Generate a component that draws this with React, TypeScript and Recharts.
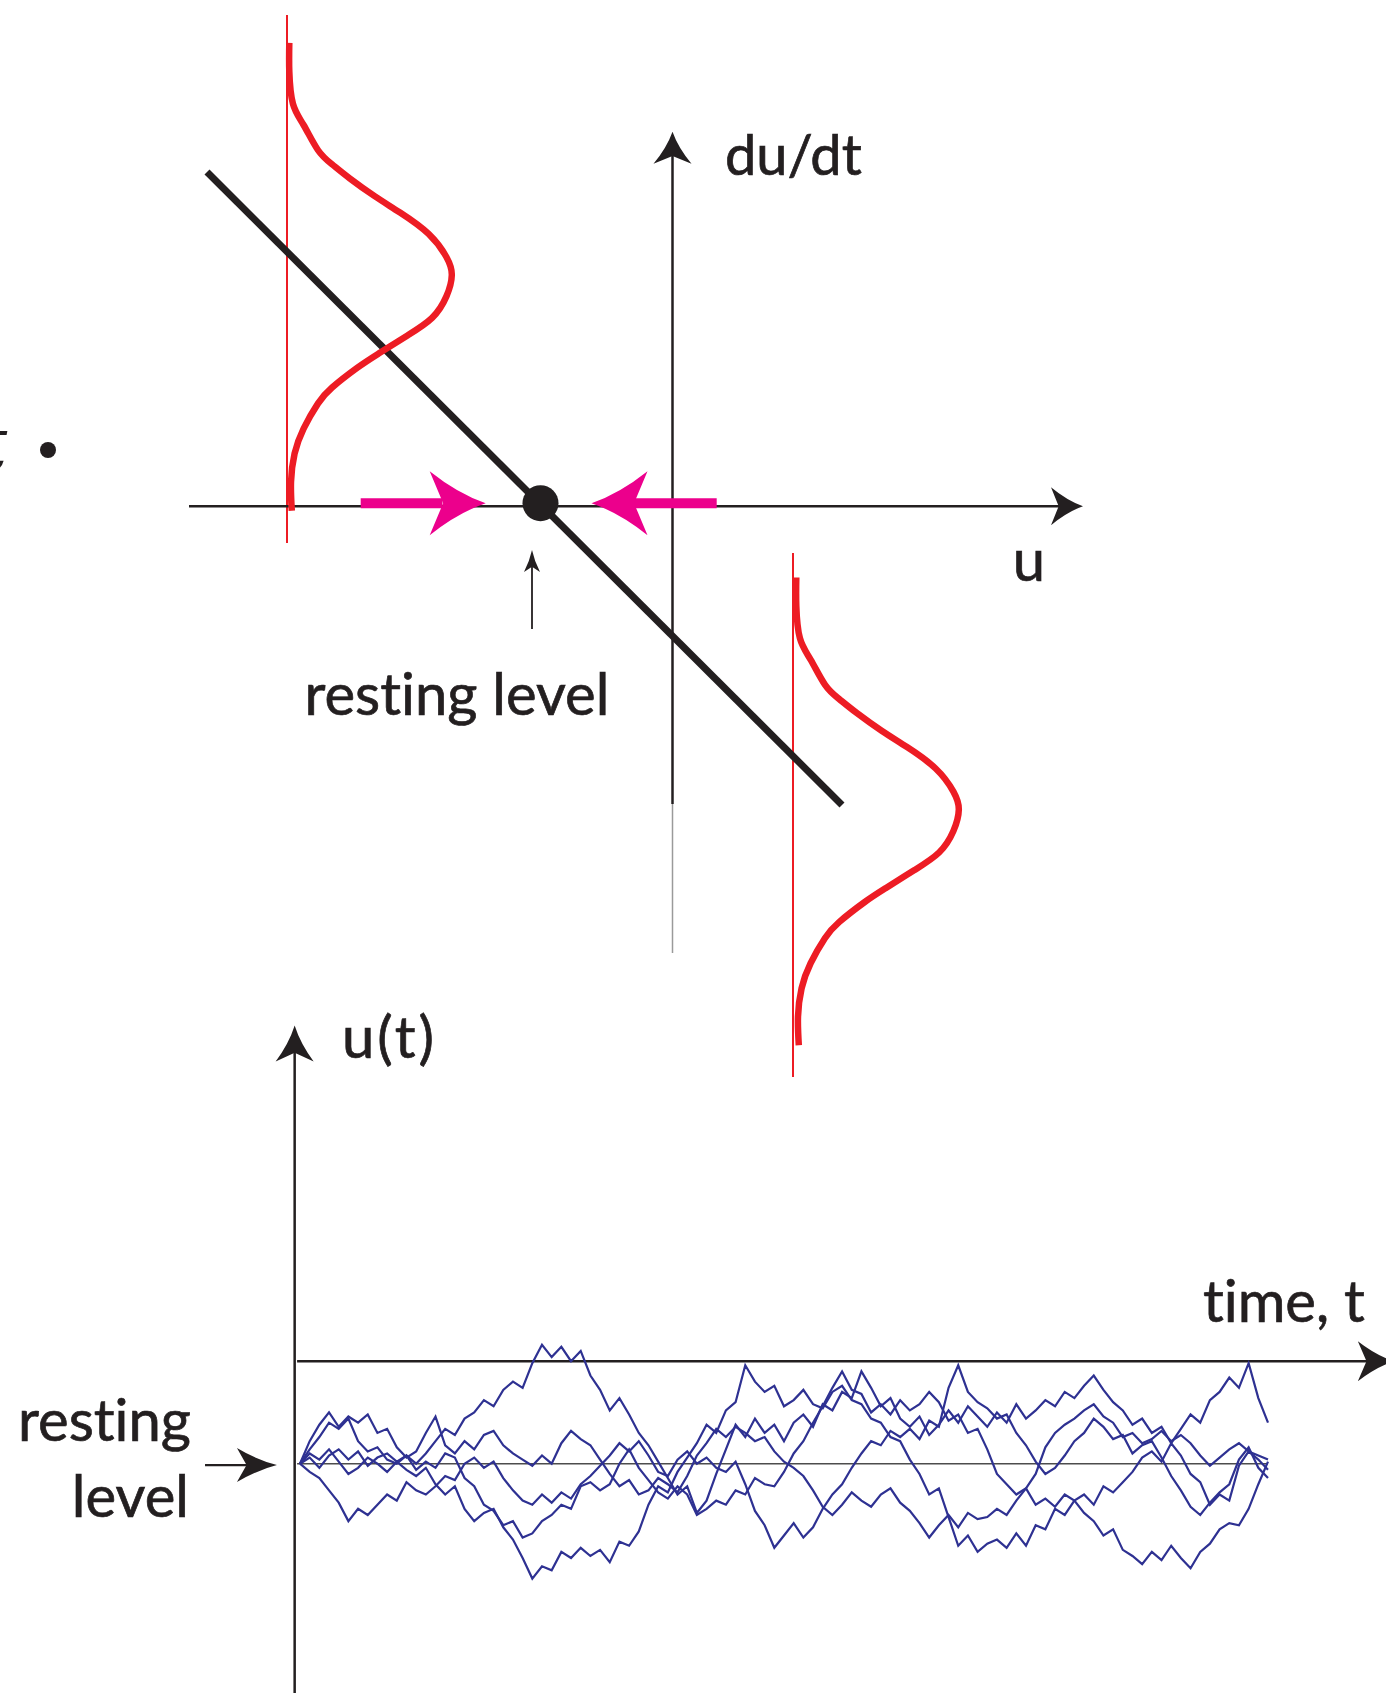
import { ComposedChart, Line, XAxis, YAxis, ReferenceLine, ReferenceDot } from "recharts";

const INK = "#231f20";
const RED = "#ed1c24";
const MAGENTA = "#ec008c";
const BLUE = "#2e3192";
const FONT = "Lato, 'Open Sans', sans-serif";

// ---- top panel: du/dt against u (1 unit = 100px) ----
const restingU = -1.32;
const driftLine = [
  { u: -4.655, d: 3.342 },
  { u: 1.695, d: -2.988 },
];
// noise distribution drawn on the left, upper side
const noiseLeft = [
  { u: -3.832, d: 4.633 }, { u: -3.832, d: 4.348 }, { u: -3.796, d: 4.026 }, { u: -3.689, d: 3.812 },
  { u: -3.546, d: 3.562 }, { u: -3.405, d: 3.419 }, { u: -3.225, d: 3.276 }, { u: -2.975, d: 3.098 },
  { u: -2.725, d: 2.937 }, { u: -2.439, d: 2.723 }, { u: -2.261, d: 2.492 }, { u: -2.207, d: 2.312 },
  { u: -2.261, d: 2.098 }, { u: -2.404, d: 1.883 }, { u: -2.654, d: 1.705 }, { u: -2.939, d: 1.526 },
  { u: -3.154, d: 1.383 }, { u: -3.404, d: 1.187 }, { u: -3.546, d: 1.026 }, { u: -3.689, d: 0.776 },
  { u: -3.779, d: 0.526 }, { u: -3.815, d: 0.242 }, { u: -3.807, d: -0.045 },
];
// noise distribution on the right, lower side
const noiseRight = [
  { u: 1.238, d: -0.713 }, { u: 1.238, d: -0.998 }, { u: 1.274, d: -1.32 }, { u: 1.381, d: -1.534 },
  { u: 1.524, d: -1.784 }, { u: 1.665, d: -1.927 }, { u: 1.845, d: -2.07 }, { u: 2.095, d: -2.248 },
  { u: 2.345, d: -2.409 }, { u: 2.631, d: -2.623 }, { u: 2.809, d: -2.854 }, { u: 2.863, d: -3.034 },
  { u: 2.809, d: -3.248 }, { u: 2.666, d: -3.463 }, { u: 2.416, d: -3.641 }, { u: 2.131, d: -3.82 },
  { u: 1.916, d: -3.963 }, { u: 1.666, d: -4.159 }, { u: 1.524, d: -4.32 }, { u: 1.381, d: -4.57 },
  { u: 1.291, d: -4.82 }, { u: 1.255, d: -5.104 }, { u: 1.263, d: -5.391 },
];
const noiseBaseLeft = { u: -3.855, top: 4.912, bottom: -0.368 };
const noiseBaseRight = { u: 1.205, top: -0.468, bottom: -5.708 };

// ---- bottom panel: u(t) traces, value 100 = time axis height above rest ----
const s1 = [
  0, 6, -4, 8, 14, 4, 12, -2, 6, 10, 2, 8, 0,
  10, 22, 34, 28, 44, 50, 62, 56, 72, 80, 74, 98,
  116, 104, 114, 100, 110, 86,
  72, 52, 64, 48, 30, 18, 2,
  -14, -30, -22, -48, -36, -10, 14, 38,
  26, 44, 30, 38, 22, 40, 48, 36, 58, 52, 70, 64, 90,
  74, 56, 64, 44, 36, 46, 28, 38, 52, 40, 56, 46,
  36, 50, 40, 58, 44, 52, 62, 56, 70, 64,
  76, 86, 72, 60, 52, 38, 44, 30, 36, 20,
  34, 48, 40, 62, 70, 84, 74, 98, 64, 40,
];
const s2 = [
  0, 10, 4, 14, 2, -10, -4, 6, 0, -8, 2, -6, -12,
  -4, -20, -30, -22, -44, -56, -48, -44, -62, -74, -92, -112,
  -100, -104, -86, -92, -82, -90,
  -84, -96, -76, -80, -66, -40, -22,
  -28, -8, 6, 20, 38, 30, 52, 60,
  96, 80, 70, 76, 56, 62, 72, 58, 54, 70, 76, 62, 58,
  44, 40, 26, 22, 4, -10, -30, -24, -52, -80, -70, -86,
  -78, -74, -82, -68, -80, -60, -64, -44, -50, -36,
  -30, -40, -22, -28, -18, -8, 6, 12, 2, 20,
  8, -10, -18, -40, -30, -36, -2, 12, 4, -6,
];
const s3 = [
  0, -8, -14, -26, -38, -56, -44, -50, -40, -30, -36, -18, -26,
  -30, -22, -12, -16, 0, 6, -4, 2, -14, -26, -36, -40,
  -30, -38, -28, -34, -20, -12,
  -2, 8, 20, 12, 22, 8, -8,
  -12, 4, 12, 0, 6, -4, -8, 2,
  -20, -46, -60, -82, -70, -58, -72, -62, -44, -30, -20, -4, 10,
  22, 18, 32, 26, 34, 24, 42, 36, 74, 96, 70, 60,
  54, 44, 48, 30, 18, 2, -10, -4, 8, 22,
  30, 44, 36, 24, 28, 10, 18, 22, 6, -12,
  -26, -42, -50, -38, -28, -20, 4, 16, -4, -14,
];
const s4 = [
  0, 14, 26, 40, 34, 44, 22, 12, 16, 4, 0, 8, -6,
  2, -4, 10, 6, -14, -22, -40, -46, -60, -56, -72, -68,
  -56, -50, -40, -44, -22, -18,
  -26, -20, 0, 14, -4, -16, -28,
  -34, -22, -30, -50, -44, -36, -40, -26,
  -30, -14, -20, -22, -8, 10, 22, 40, 56, 74, 90, 72, 68,
  50, 58, 48, 62, 52, 58, 70, 60, 42, 48, 30, 34,
  14, -10, -20, -30, -24, -40, -34, -42, -30, -36,
  -48, -56, -70, -64, -84, -90, -98, -86, -94, -80,
  -92, -102, -86, -78, -64, -58, -60, -44, -20, 2,
];
const s5 = [
  0, 22, 38, 50, 36, 46, 40, 48, 30, 34, 16, 6, 12,
  30, 46, 18, 10, 22, 14, 28, 32, 18, 10, 4, -2,
  8, 0, 20, 32, 24, 18,
  4, -10, -22, -16, -30, -26, -14,
  -20, -28, -12, 8, 20, 34, 26, 36,
  30, 22, 26, 12, 2, -4, -12, -26, -42, -50, -40, -28, -36,
  -42, -30, -24, -38, -46, -58, -72, -60, -50, -62, -48, -54,
  -52, -44, -50, -36, -24, -10, 16, 30, 38, 44,
  52, 58, 46, 40, 26, 30, 20, 24, 32, 22,
  28, 20, 8, -2, 6, 14, 20, 12, 8, 4,
];
const traceKeys = ["s1", "s2", "s3", "s4", "s5"];
const traces = [s1, s2, s3, s4, s5];
const rows = s1.map((_, t) => {
  const r: Record<string, number> = { t };
  traces.forEach((s, k) => (r[traceKeys[k]] = s[t]));
  return r;
});

function head(dir: "up" | "right" | "left", len: number, half: number, fill: string) {
  const rot = { right: 0, up: -90, left: 180 }[dir];
  return (p: any) => (
    <path
      transform={`translate(${p.cx},${p.cy}) rotate(${rot})`}
      d={`M0,0 Q${-len * 0.5},${-half * 0.3} ${-len},${-half} L${-len * 0.76},0 L${-len},${half} Q${-len * 0.5},${half * 0.3} 0,0Z`}
      fill={fill}
    />
  );
}

// labels: no ligatures (Lato would join "ti"), slightly heavier to get near Gill Sans
function label(value: string, size: number, anchor = "start", extra: any = {}) {
  return (p: any) => (
    <text
      x={p.cx}
      y={p.cy}
      fontSize={size}
      textAnchor={anchor}
      fontFamily={FONT}
      fill={INK}
      stroke={INK}
      strokeWidth={0.7}
      style={{ fontVariantLigatures: "none", fontFeatureSettings: '"liga" 0' }}
      {...extra}
    >
      {value}
    </text>
  );
}

function PhasePlot() {
  return (
    <ComposedChart width={1386} height={1100} margin={{ top: 0, right: 0, bottom: 0, left: 0 }}>
      <XAxis type="number" dataKey="u" domain={[-6.725, 7.135]} allowDataOverflow hide />
      <YAxis type="number" dataKey="d" domain={[-5.938, 5.062]} allowDataOverflow hide />
      {/* thin red baselines of the two distributions */}
      <ReferenceLine segment={[{ x: noiseBaseLeft.u, y: noiseBaseLeft.top }, { x: noiseBaseLeft.u, y: noiseBaseLeft.bottom }]} stroke={RED} strokeWidth={2} ifOverflow="visible" />
      <ReferenceLine segment={[{ x: noiseBaseRight.u, y: noiseBaseRight.top }, { x: noiseBaseRight.u, y: noiseBaseRight.bottom }]} stroke={RED} strokeWidth={2} ifOverflow="visible" />
      {/* axes */}
      <ReferenceLine segment={[{ x: -4.835, y: 0 }, { x: 3.9, y: 0 }]} stroke={INK} strokeWidth={2.5} ifOverflow="visible" />
      <ReferenceDot x={4.105} y={0} r={0} ifOverflow="visible" shape={head("right", 32, 19, INK)} />
      <ReferenceLine segment={[{ x: 0, y: 3.55 }, { x: 0, y: -2.978 }]} stroke={INK} strokeWidth={2.5} ifOverflow="visible" />
      <ReferenceLine segment={[{ x: 0, y: -2.978 }, { x: 0, y: -4.468 }]} stroke="#9a9a9a" strokeWidth={1.5} ifOverflow="visible" />
      <ReferenceDot x={0} y={3.745} r={0} ifOverflow="visible" shape={head("up", 32, 19, INK)} />
      <Line data={driftLine} dataKey="d" stroke={INK} strokeWidth={7} dot={false} activeDot={false} isAnimationActive={false} type="linear" />
      <Line data={noiseLeft} dataKey="d" stroke={RED} strokeWidth={6.5} dot={false} activeDot={false} isAnimationActive={false} type="natural" />
      <Line data={noiseRight} dataKey="d" stroke={RED} strokeWidth={6.5} dot={false} activeDot={false} isAnimationActive={false} type="natural" />
      {/* flow arrows towards the fixed point */}
      <ReferenceLine segment={[{ x: -3.118, y: 0.03 }, { x: -2.3, y: 0.03 }]} stroke={MAGENTA} strokeWidth={10} ifOverflow="visible" />
      <ReferenceDot x={-1.868} y={0.03} r={0} ifOverflow="visible" shape={head("right", 56, 32, MAGENTA)} />
      <ReferenceLine segment={[{ x: 0.442, y: 0.03 }, { x: -0.4, y: 0.03 }]} stroke={MAGENTA} strokeWidth={10} ifOverflow="visible" />
      <ReferenceDot x={-0.81} y={0.03} r={0} ifOverflow="visible" shape={head("left", 56, 32, MAGENTA)} />
      <ReferenceDot x={restingU} y={0.03} r={18} fill={INK} stroke="none" ifOverflow="visible" />
      {/* pointer to the resting level */}
      <ReferenceLine segment={[{ x: -1.405, y: -1.228 }, { x: -1.405, y: -0.6 }]} stroke={INK} strokeWidth={1.8} ifOverflow="visible" />
      <ReferenceDot x={-1.405} y={-0.438} r={0} ifOverflow="visible" shape={head("up", 22, 8, INK)} />
      {/* text */}
      <ReferenceDot x={-2.155} y={-2.088} r={0} ifOverflow="visible" shape={label("resting level", 58, "middle")} />
      <ReferenceDot x={0.525} y={3.312} r={0} ifOverflow="visible" shape={label("du/dt", 56)} />
      <ReferenceDot x={3.565} y={-0.748} r={0} ifOverflow="visible" shape={label("u", 58, "middle")} />
      <ReferenceDot x={-6.95} y={0.36} r={0} ifOverflow="visible" shape={label("t", 74, "start", { fontFamily: "'DejaVu Serif', serif", fontStyle: "italic", strokeWidth: 0 })} />
      <ReferenceDot x={-6.245} y={0.562} r={8} fill={INK} stroke="none" ifOverflow="visible" />
    </ComposedChart>
  );
}

function TracePlot() {
  return (
    <ComposedChart width={1386} height={703} data={rows} margin={{ top: 0, right: 0, bottom: 0, left: 0 }}>
      <XAxis type="number" dataKey="t" domain={[-30.99, 112.19]} allowDataOverflow hide />
      <YAxis type="number" domain={[-223.6, 461.95]} allowDataOverflow hide />
      <ReferenceLine segment={[{ x: -0.55, y: -223.6 }, { x: -0.55, y: 405 }]} stroke={INK} strokeWidth={2.5} ifOverflow="visible" />
      <ReferenceDot x={-0.55} y={427.4} r={0} ifOverflow="visible" shape={head("up", 36, 19, INK)} />
      <ReferenceLine segment={[{ x: -0.3, y: 100 }, { x: 111, y: 100 }]} stroke={INK} strokeWidth={2.5} ifOverflow="visible" />
      <ReferenceDot x={113.0} y={100} r={0} ifOverflow="visible" shape={head("right", 36, 20, INK)} />
      <ReferenceLine segment={[{ x: -0.3, y: 0 }, { x: 100, y: 0 }]} stroke="#4d4d4d" strokeWidth={1.4} ifOverflow="visible" />
      {traceKeys.map((k) => (
        <Line key={k} dataKey={k} stroke={BLUE} strokeWidth={2.2} dot={false} activeDot={false} isAnimationActive={false} type="linear" />
      ))}
      <ReferenceLine segment={[{ x: -9.81, y: -1.3 }, { x: -5, y: -1.3 }]} stroke={INK} strokeWidth={2.2} ifOverflow="visible" />
      <ReferenceDot x={-2.38} y={-1.3} r={0} ifOverflow="visible" shape={head("right", 40, 17, INK)} />
      <ReferenceDot x={4.34} y={395.6} r={0} ifOverflow="visible" shape={label("u(t)", 58, "start", { letterSpacing: 3 })} />
      <ReferenceDot x={110.0} y={138} r={0} ifOverflow="visible" shape={label("time, t", 58, "end")} />
      <ReferenceDot x={-11.26} y={21.7} r={0} ifOverflow="visible" shape={label("resting", 58, "end")} />
      <ReferenceDot x={-11.47} y={-52.4} r={0} ifOverflow="visible" shape={label("level", 58, "end")} />
    </ComposedChart>
  );
}

export default function App() {
  return (
    <div style={{ position: "absolute", left: 0, top: 0, width: 1386, height: 1693, overflow: "hidden", background: "#fff" }}>
      <div style={{ position: "absolute", left: 0, top: 0 }}>
        <PhasePlot />
      </div>
      <div style={{ position: "absolute", left: 0, top: 990 }}>
        <TracePlot />
      </div>
    </div>
  );
}
